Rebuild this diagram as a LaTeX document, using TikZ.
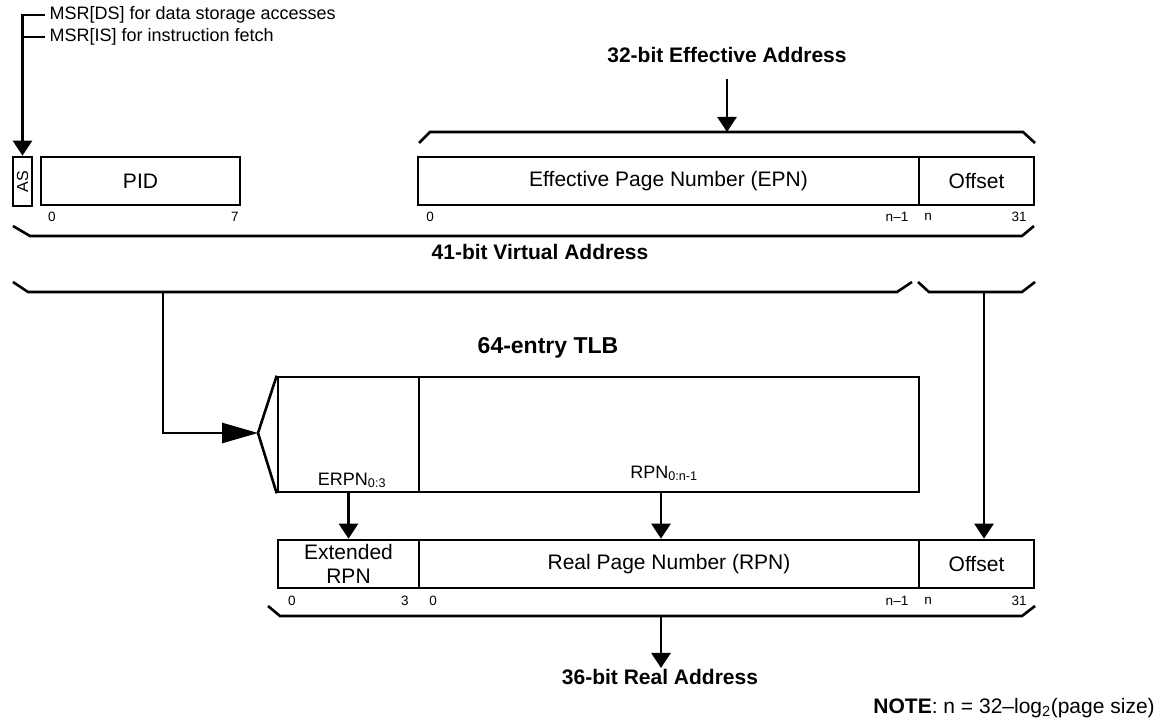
\documentclass[tikz,border=0pt]{standalone}
\usepackage{fontspec}
\setmainfont{Liberation Sans}
\usetikzlibrary{arrows.meta}
\newcommand\bitrowa{217}
\newcommand\bitrowb{601}
\newcommand\tipwidth{19pt}
\newcommand\tiplength{15pt}

\tikzset{
  field/.style={draw,inner sep=0pt,align=center,font=\fontsize{21}{24}\selectfont},
  bitno/.style={inner sep=0pt,font=\fontsize{13.5}{15}\selectfont},
  msr/.style={font=\fontsize{18}{20}\selectfont},
  heading/.style={font=\fontsize{21}{25}\selectfont\bfseries},
  sublbl/.style={inner sep=0pt,font=\fontsize{18}{20}\selectfont},
  brace/.style={line join=miter},
  arr/.style={-{Triangle[width=\tipwidth,length=\tiplength]}},
}

\begin{document}
\begin{tikzpicture}[x=1pt,y=-1pt,line width=2.6pt]
    \useasboundingbox (0,0) rectangle (1160,727);

    \node[msr,anchor=west] (msrds) at (45,15) {MSR[DS] for data storage accesses};
    \node[msr,anchor=west] (msris) at (45,37) {MSR[IS] for instruction fetch};

    \node[field,minimum width=19pt,minimum height=49pt] (as) at (22.5,181.5) {};
    \node[bitno,rotate=90,font=\fontsize{16}{18}\selectfont] (aslbl) at (as) {AS};
    \node[field,minimum width=199pt,minimum height=48pt] (pid) at (140.5,181) {PID};
    \draw[arr] (msrds.west) -| (as.north);
    \draw (msris.west) -- (msris.west -| as.north);

    \node[field,minimum width=501pt,minimum height=48pt] (epn) at (668.5,181) {Effective Page Number (EPN)};
    \node[field,minimum width=115pt,minimum height=48pt] (voff) at (976.5,181) {Offset};

    \foreach \x/\t in {52/0,235/7,430/0,897/n--1,928/n,1019/31}
      \node[bitno] (va\x) at (\x,\bitrowa) {\t};

    \node[heading] (ea) at (727,55) {32-bit Effective Address};
    \coordinate (eabr) at (727,132);
    \draw[brace] (419,143) -- (430,132) -- (1023,132) -- (1035,143);
    \draw[arr] (ea) ++(0,24) -- (eabr);

    \draw[brace] (13,226) -- (30,236) -- (1022,236) -- (1034,226);
    \node[heading] (va) at (540,252) {41-bit Virtual Address};
    \draw[brace] (13,282) -- (28,292) -- (897,292) -- (912,282);
    \draw[brace] (918,282) -- (929,292) -- (1022,292) -- (1035,282);
    \coordinate (vbl) at (163,292);
    \coordinate (vbr) at (984,292);

    \node[heading,font=\fontsize{23}{27}\selectfont\bfseries] (tlb) at (548,348) {64-entry TLB};
    \node[field,minimum width=141pt,minimum height=115pt] (tlbl) at (348.5,434.5) {};
    \node[field,minimum width=500pt,minimum height=115pt] (tlbr) at (669,434.5) {};
    \coordinate (apex) at (258,433);
    \draw[brace] (tlbl.north west) -- (apex) -- (tlbl.south west);
    \draw[-{Triangle[width=20pt,length=36pt]}] (vbl) |- (apex);
    \node[sublbl,anchor=base] (erpn) at (352,485) {ERPN\textsubscript{0:3}};
    \node[sublbl,anchor=base] (rpnsub) at (664,478) {RPN\textsubscript{0:n-1}};

    \node[field,minimum width=141pt,minimum height=48pt] (xrpn) at (348.5,564) {Extended\\RPN};
    \node[field,minimum width=500pt,minimum height=48pt] (rpn) at (669,564) {Real Page Number (RPN)};
    \node[field,minimum width=115pt,minimum height=48pt] (roff) at (976.5,564) {Offset};

    \coordinate (rx) at (661,492);
    \draw[arr] (tlbl.south) -- (xrpn.north);
    \draw[arr] (rx) -- (rx |- rpn.north);
    \draw[arr] (vbr) -- (vbr |- roff.north);

    \foreach \x/\t in {292/0,405/3,433/0,897/n--1,928/n,1019/31}
      \node[bitno] (ra\x) at (\x,\bitrowb) {\t};

    \draw[brace] (268,606) -- (280,616) -- (1022,616) -- (1035,606);
    \coordinate (rabr) at (661,616);
    \node[heading,inner sep=0pt] (ra) at (660,677) {36-bit Real Address};
    \draw[arr] (rabr) -- (rabr |- ra.north);

    \node[field,draw=none,anchor=east] (note) at (1156,708) {\textbf{NOTE}: n = 32--log\textsubscript{2}(page size)};
  \end{tikzpicture}
\end{document}
